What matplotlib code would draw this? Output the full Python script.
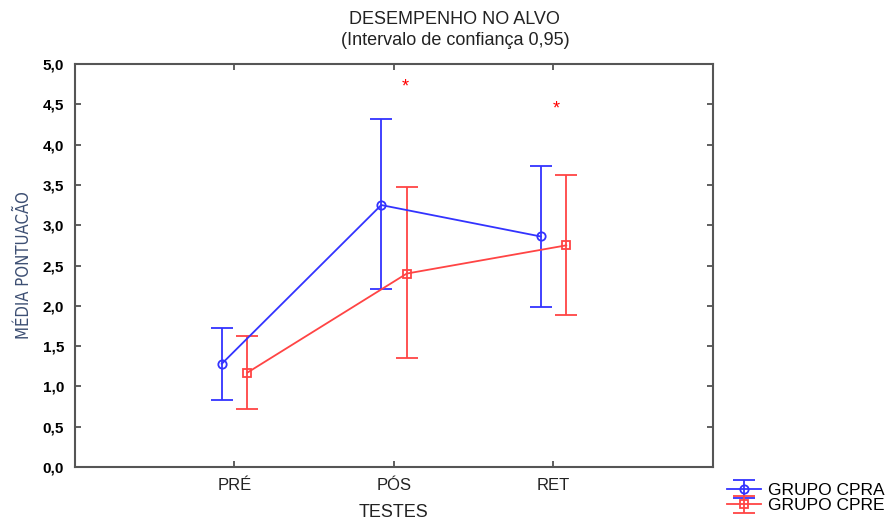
import matplotlib
matplotlib.use("Agg")
import matplotlib.pyplot as plt

plt.rcParams['font.family'] = ['Liberation Sans', 'DejaVu Sans']

# data
testes = ['PRÉ', 'PÓS', 'RET']
cpra_media = [1.28, 3.25, 2.86]
cpra_sup = [1.72, 4.32, 3.73]
cpra_inf = [0.83, 2.21, 1.99]
cpre_media = [1.17, 2.40, 2.75]
cpre_sup = [1.62, 3.47, 3.62]
cpre_inf = [0.72, 1.35, 1.88]
asteriscos_x = [2.07, 3.02]
asteriscos_y = [4.71, 4.44]
y_ticks = [0.0, 0.5, 1.0, 1.5, 2.0, 2.5, 3.0, 3.5, 4.0, 4.5, 5.0]

fig = plt.figure(figsize=(8.92, 5.20), dpi=100)
ax = fig.add_axes([75 / 892, 1 - 467 / 520, 638 / 892, 403 / 520])

pos = [1, 2, 3]
off = 0.08
xb = [p - off for p in pos]
xr = [p + off for p in pos]

err_b = [[m - lo for m, lo in zip(cpra_media, cpra_inf)],
         [hi - m for m, hi in zip(cpra_media, cpra_sup)]]
err_r = [[m - lo for m, lo in zip(cpre_media, cpre_inf)],
         [hi - m for m, hi in zip(cpre_media, cpre_sup)]]

ax.errorbar(xb, cpra_media, yerr=err_b, color='#3333ff', marker='o',
            markersize=6, markerfacecolor='none', markeredgewidth=1.3,
            linewidth=1.3, capsize=8, capthick=1.3, label='GRUPO CPRA')
ax.errorbar(xr, cpre_media, yerr=err_r, color='#ff4444', marker='s',
            markersize=6, markerfacecolor='none', markeredgewidth=1.3,
            linewidth=1.3, capsize=8, capthick=1.3, label='GRUPO CPRE')

for x, y in zip(asteriscos_x, asteriscos_y):
    ax.text(x, y, '*', color='red', fontsize=13, ha='center', va='center')

ax.set_xlim(0, 4)
ax.set_ylim(0, 5)
ax.set_xticks(pos)
ax.set_xticklabels(testes, fontsize=12, color='#222222')
ax.set_yticks(y_ticks)
ax.set_yticklabels([f'{v:.1f}'.replace('.', ',') for v in y_ticks],
                   fontsize=11, fontweight='bold')
ax.tick_params(direction='in', length=4, width=1.2, color='#444444',
               top=True, right=True, pad=8)
for s in ax.spines.values():
    s.set_color('#555555')
    s.set_linewidth(1.5)

ax.set_xlabel('TESTES', fontsize=13, color='#222222', labelpad=8)
ax.set_ylabel('MÉDIA PONTUACÃO', fontsize=12, color='#3d4f73', labelpad=7,
              family='DejaVu Sans', fontstretch='condensed')

fig.text(0.51, 1 - 19 / 520, 'DESEMPENHO NO ALVO', ha='center', va='center',
         fontsize=13, color='#222222')
fig.text(0.51, 1 - 41 / 520, '(Intervalo de confiança 0,95)', ha='center',
         va='center', fontsize=13, color='#222222')

fig.legend(loc='lower left', bbox_to_anchor=(718 / 892, -2 / 520),
           bbox_transform=fig.transFigure, frameon=False, fontsize=12.5,
           handlelength=2.0, labelspacing=0.0, borderpad=0,
           handletextpad=0.4)

fig.savefig('out.png', dpi=100)
